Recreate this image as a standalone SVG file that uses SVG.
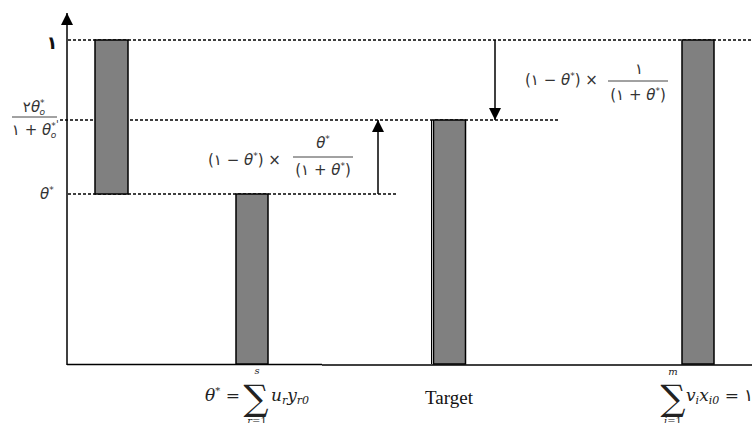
<svg xmlns="http://www.w3.org/2000/svg" width="752" height="423" viewBox="0 0 752 423">
<style>
.bar{fill:#808080;stroke:#000;stroke-width:1.5}
.dash{stroke:#000;stroke-width:1.3;stroke-dasharray:3,2;fill:none}
.ln{stroke:#000;stroke-width:1.5;fill:none}
.fl{stroke:#444;stroke-width:1;fill:none}
.f{font-family:"DejaVu Sans",sans-serif;font-size:15px;fill:#333}
.m{font-family:"DejaVu Serif","Liberation Serif",serif;font-size:17px;fill:#222}
.sig{font-family:"DejaVu Serif","Liberation Serif",serif;font-size:35px;fill:#222}
.sm{font-family:"DejaVu Serif","Liberation Serif",serif;font-size:10px;fill:#222}
.i{font-style:italic}
</style>
<defs>
<marker id="ahBig" viewBox="0 0 10 10" refX="10" refY="5" markerWidth="12" markerHeight="12" markerUnits="userSpaceOnUse" orient="auto">
<path d="M0,0 L10,5 L0,10 z" fill="#000"/>
</marker>
</defs>

<g id="axes">
<line class="ln" x1="67" y1="365" x2="67" y2="13" marker-end="url(#ahBig)"/>
<line class="ln" x1="67" y1="364.5" x2="322" y2="364.5"/>
<line class="ln" x1="322" y1="365" x2="752" y2="365"/>
</g>

<g id="levels">
<line class="dash" x1="68" y1="40" x2="752" y2="40"/>
<line class="dash" x1="60" y1="120" x2="558" y2="120"/>
<line class="dash" x1="68" y1="194" x2="396" y2="194"/>
</g>

<g id="bar-1"><rect class="bar" x="95" y="40" width="33" height="154"/></g>
<g id="bar-2"><rect class="bar" x="236" y="194" width="32" height="170"/></g>
<g id="bar-target">
<line x1="431.5" y1="120" x2="431.5" y2="364" stroke="#000" stroke-width="1"/>
<rect class="bar" x="433.5" y="120" width="32" height="244"/>
</g>
<g id="bar-4"><rect class="bar" x="682" y="40" width="32" height="324"/></g>

<g id="connectors">
<line class="ln" x1="378" y1="194" x2="378" y2="120" marker-end="url(#ahBig)"/>
<line class="ln" x1="495" y1="40" x2="495" y2="120" marker-end="url(#ahBig)"/>
</g>

<g id="label-one">
<text x="52" y="49" text-anchor="middle" font-family="DejaVu Sans,sans-serif" font-size="18" font-weight="bold" fill="#111">١</text>
</g>

<g id="label-frac">
<text class="f" x="34" y="112" text-anchor="middle">۲<tspan class="i">θ</tspan><tspan font-size="9" dy="-6">*</tspan><tspan font-size="9" class="i" dx="-5" dy="9">o</tspan></text>
<line class="fl" x1="12" y1="117" x2="57" y2="117"/>
<text class="f" x="34" y="135" text-anchor="middle">۱ + <tspan class="i">θ</tspan><tspan font-size="9" dy="-6">*</tspan><tspan font-size="9" class="i" dx="-5" dy="9">o</tspan></text>
<text class="f" x="56" y="128" style="font-size:10px">'</text>
</g>

<g id="label-theta">
<text class="f" x="40" y="199"><tspan class="i">θ</tspan><tspan font-size="9" dy="-6">*</tspan></text>
</g>

<g id="formula-1">
<text class="f" x="208" y="165">(۱ − <tspan class="i">θ</tspan><tspan font-size="9" dy="-6">*</tspan><tspan dy="6">) ×</tspan></text>
<text class="f" x="323" y="148" text-anchor="middle"><tspan class="i">θ</tspan><tspan font-size="9" dy="-6">*</tspan></text>
<line class="fl" x1="293" y1="157" x2="353" y2="157"/>
<text class="f" x="323" y="175" text-anchor="middle">(۱ + <tspan class="i">θ</tspan><tspan font-size="9" dy="-6">*</tspan><tspan dy="6">)</tspan></text>
</g>

<g id="formula-2">
<text class="f" x="525" y="85">(۱ − <tspan class="i">θ</tspan><tspan font-size="9" dy="-6">*</tspan><tspan dy="6">) ×</tspan></text>
<text class="f" x="639" y="74" text-anchor="middle">۱</text>
<line class="fl" x1="608" y1="81" x2="668" y2="81"/>
<text class="f" x="638" y="100" text-anchor="middle">(۱ + <tspan class="i">θ</tspan><tspan font-size="9" dy="-6">*</tspan><tspan dy="6">)</tspan></text>
</g>

<g id="label-bottom-1">
<text class="m" x="205" y="401"><tspan class="i">θ</tspan><tspan font-size="10" dy="-7">*</tspan><tspan dy="7"> =</tspan></text>
<text class="sig" x="256" y="410" text-anchor="middle">∑</text>
<text class="sm i" x="257" y="374" text-anchor="middle">s</text>
<text class="sm" x="257" y="424" text-anchor="middle"><tspan class="i">r</tspan>=1</text>
<text class="m i" x="271" y="401">u<tspan font-size="11" dy="3">r</tspan><tspan dy="-3">y</tspan><tspan font-size="11" dy="3">r0</tspan></text>
</g>

<g id="label-target">
<text x="425" y="404" font-family="Liberation Serif,serif" font-size="19" fill="#111">Target</text>
</g>

<g id="label-bottom-2">
<text class="sig" x="673" y="410" text-anchor="middle">∑</text>
<text class="sm i" x="673" y="375" text-anchor="middle">m</text>
<text class="sm" x="673" y="424" text-anchor="middle"><tspan class="i">i</tspan>=1</text>
<text class="m" x="686" y="401"><tspan class="i">v</tspan><tspan class="i" font-size="11" dy="3">i</tspan><tspan class="i" dy="-3">x</tspan><tspan class="i" font-size="11" dy="3">i0</tspan><tspan dy="-3"> = ۱</tspan></text>
</g>
</svg>
